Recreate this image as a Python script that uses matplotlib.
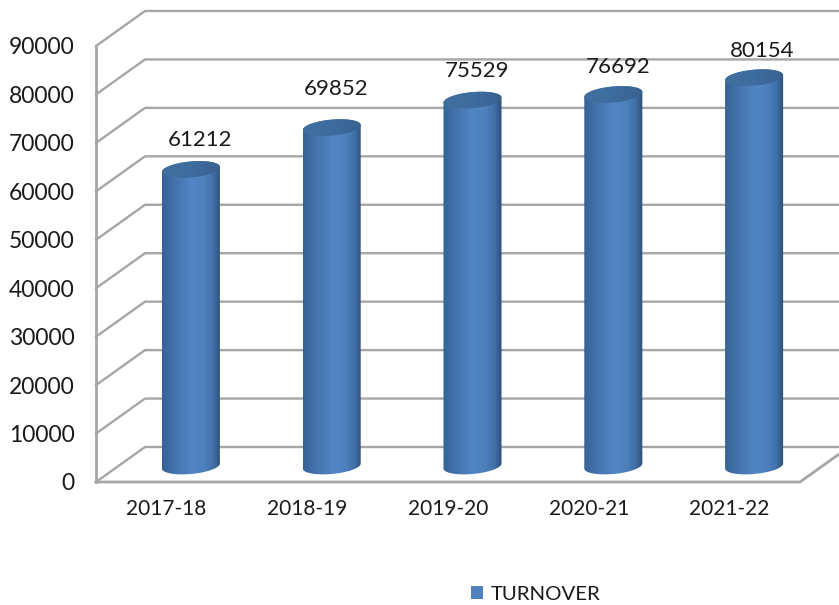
import numpy as np
import matplotlib
matplotlib.use("Agg")
import matplotlib.pyplot as plt
from matplotlib.colors import LinearSegmentedColormap
from matplotlib.patches import Patch, PathPatch
from matplotlib.path import Path
from matplotlib.transforms import Affine2D

years = ['2017-18', '2018-19', '2019-20', '2020-21', '2021-22']
turnover = [61212, 69852, 75529, 76692, 80154]
y_ticks = [0, 10000, 20000, 30000, 40000, 50000, 60000, 70000, 80000, 90000]

W, H = 839, 605
plt.rcParams['font.family'] = ['Lato', 'DejaVu Sans']

fig = plt.figure(figsize=(W / 100, H / 100), dpi=100)
# front plane of the 3D box, in pixels
left, right, top, bottom = 96, 800, 46, 482
ax = fig.add_axes([left / W, 1 - bottom / H, (right - left) / W, (bottom - top) / H])
ax.set_xlim(-0.5, 4.5)
ax.set_ylim(0, 90000)
ax.set_zorder(2)  # cylinders sit in front of the wall lines
for s in ax.spines.values():
    s.set_visible(False)
ax.patch.set_visible(False)

ax.set_xticks(range(len(years)), years)
ax.set_yticks(y_ticks)
ax.tick_params(axis='both', length=0, labelcolor='#1a1a1a')
ax.tick_params(axis='y', pad=15.5, labelsize=16.5)
ax.tick_params(axis='x', pad=12, labelsize=15)

GRID = '#a6a6a6'
DX, DY = 49, 35  # depth of the box in pixels

for v in y_ticks:
    # wall line: diagonal on the side wall, then across the back
    x_px, y_px = ax.transData.transform((-0.5, v))
    fig.add_artist(plt.Line2D([x_px, x_px + DX, W + 10], [y_px, y_px + DY, y_px + DY],
                              transform=None, color=GRID, lw=1.7, zorder=1))

# axis lines on the front plane and the floor edge
x0, y0 = ax.transData.transform((-0.5, 0))
x1, y1 = ax.transData.transform((4.5, 90000))
xr, _ = ax.transData.transform((4.5, 0))
fig.add_artist(plt.Line2D([x0, x0], [y0, y1], transform=None, color=GRID, lw=2, zorder=1))
fig.add_artist(plt.Line2D([x0, xr, xr + DX], [y0, y0, y0 + DY], transform=None,
                          color=GRID, lw=2, zorder=1))

side_cmap = LinearSegmentedColormap.from_list('side', [(0, '#366395'), (0.25, '#4676b0'), (0.5, '#5185c4'),
                                                       (0.72, '#4e80bd'), (0.88, '#406fa5'),
                                                       (1, '#2b4e79')])
top_cmap = LinearSegmentedColormap.from_list('top', ['#41709f', '#3e6c9f', '#38618f'])

half_w = 0.206   # cylinder half width, in category units
px_y = 90000 / (bottom - top)  # value units per pixel
ry = 8 * px_y
tilt = 2.5 * px_y
t = np.linspace(0, 2 * np.pi, 121)

# cylinders stand halfway into the box
mid = ax.transData + Affine2D().translate(DX / 2, 16)
label_x = [9, 4, 4, 5, 8]
label_y = [29, 39, 29, 27, 27]
for i, value in enumerate(turnover):
    xs = i + half_w * np.cos(t)
    # lower half of the base, then back over the upper half of the top rim
    low = t[60:121]
    hi = t[0:61]
    outline = np.vstack([
        np.column_stack([i + half_w * np.cos(low), ry * np.sin(low) + tilt * np.cos(low)]),
        np.column_stack([i + half_w * np.cos(hi), value + ry * np.sin(hi) + tilt * np.cos(hi)]),
    ])
    body = PathPatch(Path(np.vstack([outline, outline[:1]]), closed=True), fc='none', ec='none',
                     transform=mid)
    ax.add_patch(body)
    grad = np.linspace(0, 1, 256).reshape(1, -1)
    im = ax.imshow(grad, cmap=side_cmap, aspect='auto', zorder=3, transform=mid,
                   extent=[i - half_w, i + half_w, -2 * ry, value + 2 * ry])
    im.set_clip_path(body)

    cap = np.column_stack([xs, value + ry * np.sin(t) + tilt * np.cos(t)])
    cap_patch = PathPatch(Path(cap, closed=True), fc='none', ec='none', transform=mid)
    ax.add_patch(cap_patch)
    im2 = ax.imshow(grad, cmap=top_cmap, aspect='auto', zorder=4, transform=mid,
                    extent=[i - half_w, i + half_w, value - 2 * ry, value + 2 * ry])
    im2.set_clip_path(cap_patch)

    ax.annotate(str(value), xy=(i, value), xycoords=mid,
                xytext=(label_x[i] * 0.72, label_y[i] * 0.72),
                textcoords='offset points', ha='center', va='center',
                fontsize=16, color='#1a1a1a', zorder=6, annotation_clip=False)

ax.set_xlim(-0.5, 4.5)
ax.set_ylim(0, 90000)

fig.legend(handles=[Patch(fc='#4f81bd', ec='none', label='TURNOVER')], loc='center',
           bbox_to_anchor=(536 / W, 1 - 594 / H), frameon=False, fontsize=14.7,
           handlelength=0.55, handleheight=0.6, handletextpad=0.4, labelcolor='#1a1a1a')

fig.savefig('out.png', dpi=100)
